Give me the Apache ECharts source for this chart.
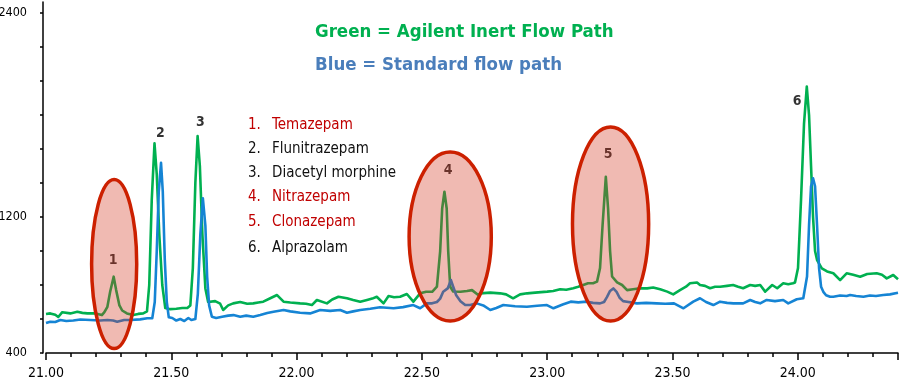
<!DOCTYPE html>
<html><head><meta charset="utf-8">
<script src="https://cdn.jsdelivr.net/npm/echarts@6/dist/echarts.min.js"></script>
<style>html,body{margin:0;padding:0;background:#fff}#c{width:900px;height:378px}</style>
</head><body><div id="c"></div>
<script>
var FONT = "'Liberation Sans Narrow','DejaVu Sans Condensed','Roboto Condensed',sans-serif";

var greenTime = [21.000,21.017,21.037,21.049,21.065,21.097,21.125,21.145,21.165,21.197,21.223,21.233,21.245,21.256,21.270,21.280,21.293,21.304,21.323,21.348,21.368,21.388,21.403,21.412,21.422,21.433,21.442,21.452,21.464,21.476,21.496,21.520,21.544,21.564,21.576,21.586,21.596,21.605,21.614,21.624,21.636,21.647,21.675,21.695,21.707,21.727,21.747,21.775,21.803,21.827,21.847,21.867,21.895,21.922,21.948,21.975,22.014,22.038,22.061,22.081,22.121,22.142,22.167,22.201,22.226,22.254,22.281,22.302,22.320,22.347,22.367,22.389,22.413,22.440,22.466,22.493,22.517,22.541,22.560,22.573,22.581,22.590,22.599,22.605,22.613,22.625,22.654,22.680,22.700,22.725,22.733,22.773,22.812,22.836,22.864,22.892,22.920,22.952,23.000,23.024,23.052,23.076,23.104,23.124,23.144,23.163,23.183,23.199,23.211,23.221,23.234,23.243,23.251,23.259,23.279,23.299,23.319,23.343,23.371,23.399,23.423,23.451,23.479,23.503,23.530,23.554,23.570,23.598,23.610,23.630,23.650,23.670,23.690,23.718,23.742,23.762,23.782,23.810,23.830,23.850,23.870,23.898,23.918,23.942,23.962,23.981,23.989,24.001,24.013,24.025,24.036,24.045,24.053,24.061,24.069,24.077,24.096,24.117,24.142,24.169,24.195,24.221,24.249,24.277,24.315,24.336,24.355,24.381,24.400];
var greenSignal = [629,633,625,612,640,633,643,636,633,633,623,640,672,760,849,770,680,650,633,623,630,633,645,800,1300,1633,1450,1100,800,665,658,660,665,665,680,900,1400,1676,1500,1100,780,700,705,690,653,680,692,700,690,692,697,702,722,741,702,697,692,690,682,712,692,715,731,722,712,702,712,720,731,692,735,728,731,747,702,751,760,760,790,1000,1250,1349,1250,1000,790,762,760,765,770,741,751,755,751,745,722,745,751,755,761,765,775,772,781,790,800,810,810,820,900,1150,1437,1250,1000,850,815,800,770,775,781,780,785,775,761,745,770,790,810,815,800,795,781,790,790,795,800,790,781,800,795,800,761,800,781,810,805,810,815,900,1300,1750,1967,1800,1500,1200,1000,947,898,880,869,829,869,860,849,865,869,860,839,859,834];

var blueTime = [21.000,21.017,21.037,21.057,21.081,21.109,21.137,21.177,21.217,21.245,21.268,21.284,21.312,21.336,21.376,21.404,21.424,21.434,21.442,21.450,21.459,21.466,21.474,21.482,21.490,21.504,21.520,21.536,21.552,21.568,21.580,21.596,21.606,21.616,21.626,21.636,21.643,21.651,21.662,21.679,21.703,21.727,21.748,21.775,21.799,21.827,21.855,21.883,21.908,21.948,21.975,22.014,22.054,22.094,22.134,22.174,22.201,22.226,22.254,22.294,22.333,22.387,22.425,22.466,22.493,22.520,22.541,22.560,22.573,22.585,22.603,22.616,22.625,22.637,22.654,22.673,22.693,22.719,22.745,22.773,22.797,22.825,22.872,22.919,22.960,22.999,23.025,23.062,23.094,23.124,23.158,23.183,23.211,23.227,23.239,23.251,23.264,23.277,23.289,23.303,23.318,23.358,23.395,23.437,23.471,23.506,23.544,23.583,23.610,23.634,23.663,23.690,23.718,23.743,23.782,23.810,23.830,23.850,23.876,23.909,23.942,23.962,23.996,24.022,24.037,24.045,24.053,24.061,24.069,24.077,24.085,24.093,24.102,24.113,24.129,24.142,24.169,24.195,24.209,24.233,24.262,24.288,24.312,24.341,24.368,24.400];
var blueSignal = [576,584,582,594,588,591,597,594,591,594,591,584,594,594,598,604,604,700,1000,1350,1519,1350,950,700,610,606,591,600,588,606,594,600,750,1100,1310,1150,850,680,613,606,613,620,623,613,620,613,623,635,643,653,645,637,633,653,648,653,637,645,653,660,669,663,670,682,663,692,692,700,720,760,780,829,790,740,705,682,682,692,680,653,665,682,675,672,678,682,663,685,702,698,702,695,692,700,730,765,780,760,725,705,702,692,695,692,690,692,663,702,722,700,682,702,695,692,692,712,700,692,712,705,712,692,716,722,850,1150,1380,1428,1380,1150,900,790,760,740,731,731,738,735,741,735,731,738,735,741,745,755];

var peakNames = ['1','2','3','4','5','6'];
var peakLabelTime = [21.268,21.456,21.616,22.605,23.243,23.997];
var peakLabelSignal = [947,1694,1759,1476,1571,1882];

var ellipseTime = [21.272,22.613,23.253];
var ellipseSignal = [923,1085,1159];
var ellipseHalfWidth = [0.090,0.164,0.152];
var ellipseHalfHeight = [497,497,571];

var compoundNames = ['Temazepam','Flunitrazepam','Diacetyl morphine','Nitrazepam','Clonazepam','Alprazolam'];
var compoundHighlighted = [true,false,false,true,true,false];

var yLabelValues = [400,1200,2400];

function pairs(a,b){return a.map(function(v,i){return [v,b[i]];});}

var chart = echarts.init(document.getElementById('c'));
var graphics = [
  {type:'text', left:315, top:23, style:{text:'Green = Agilent Inert Flow Path', fill:'#00b050', font:'bold 18.5px '+FONT}},
  {type:'text', left:315, top:56, style:{text:'Blue = Standard flow path', fill:'#4a7ebb', font:'bold 18.5px '+FONT}}
];
var rowY = [118,142,166,190,215,241];
compoundNames.forEach(function(n,i){
  var col = compoundHighlighted[i] ? '#c00000' : '#111';
  graphics.push({type:'text', left:248, top:rowY[i], style:{text:(i+1)+'.', fill:col, font:'15px '+FONT}});
  graphics.push({type:'text', left:272, top:rowY[i], style:{text:n, fill:col, font:'15px '+FONT}});
});

chart.setOption({
  animation:false,
  backgroundColor:'#fff',
  grid:{left:46,right:2,top:2,bottom:25,containLabel:false,outerBoundsMode:'none'},
  xAxis:{type:'value',min:21,max:24.4,interval:0.5,
    axisLine:{lineStyle:{color:'#000',width:1.5}},
    axisTick:{length:7,lineStyle:{color:'#000',width:1.5}},
    minorTick:{show:true,splitNumber:5,length:4,lineStyle:{color:'#000',width:1.5}},
    splitLine:{show:false},
    axisLabel:{margin:13,color:'#000',fontSize:14,fontFamily:FONT,formatter:function(v){return v.toFixed(2);},showMaxLabel:false}
  },
  yAxis:{type:'value',min:400,max:2465,interval:200,offset:3,
    axisLine:{show:true,lineStyle:{color:'#000',width:1.5}},
    axisTick:{show:true,length:3,lineStyle:{color:'#000',width:1.5}},
    splitLine:{show:false},
    axisLabel:{margin:16,color:'#000',fontSize:12.5,fontFamily:FONT,showMaxLabel:false,
      formatter:function(v){return yLabelValues.indexOf(v)>=0?String(v):'';}}
  },
  graphic:graphics,
  series:[
    {type:'line',data:pairs(greenTime,greenSignal),showSymbol:false,smooth:false,
      lineStyle:{color:'#00b050',width:2.6,join:'round'},z:2},
    {type:'line',data:pairs(blueTime,blueSignal),showSymbol:false,smooth:false,
      lineStyle:{color:'#1584d4',width:2.6,join:'round'},z:3},
    {type:'scatter',data:peakNames.map(function(n,i){return {name:n,value:[peakLabelTime[i],peakLabelSignal[i]]};}),
      symbolSize:1,itemStyle:{color:'rgba(0,0,0,0)'},z:4,
      label:{show:true,position:'inside',formatter:'{b}',color:'#000',fontWeight:'bold',fontSize:14,fontFamily:FONT}},
    {type:'custom',z:5,
      data:ellipseTime.map(function(t,i){return [t,ellipseSignal[i],ellipseHalfWidth[i],ellipseHalfHeight[i]];}),
      encode:{x:0,y:1},
      renderItem:function(params,api){
        var c = api.coord([api.value(0),api.value(1)]);
        var s = api.size([api.value(2),api.value(3)]);
        return {type:'ellipse',shape:{cx:c[0],cy:c[1],rx:s[0],ry:s[1]},
          style:{fill:'rgba(212,52,30,0.34)',stroke:'#cc2000',lineWidth:3.5}};
      }}
  ]
});
</script></body></html>
